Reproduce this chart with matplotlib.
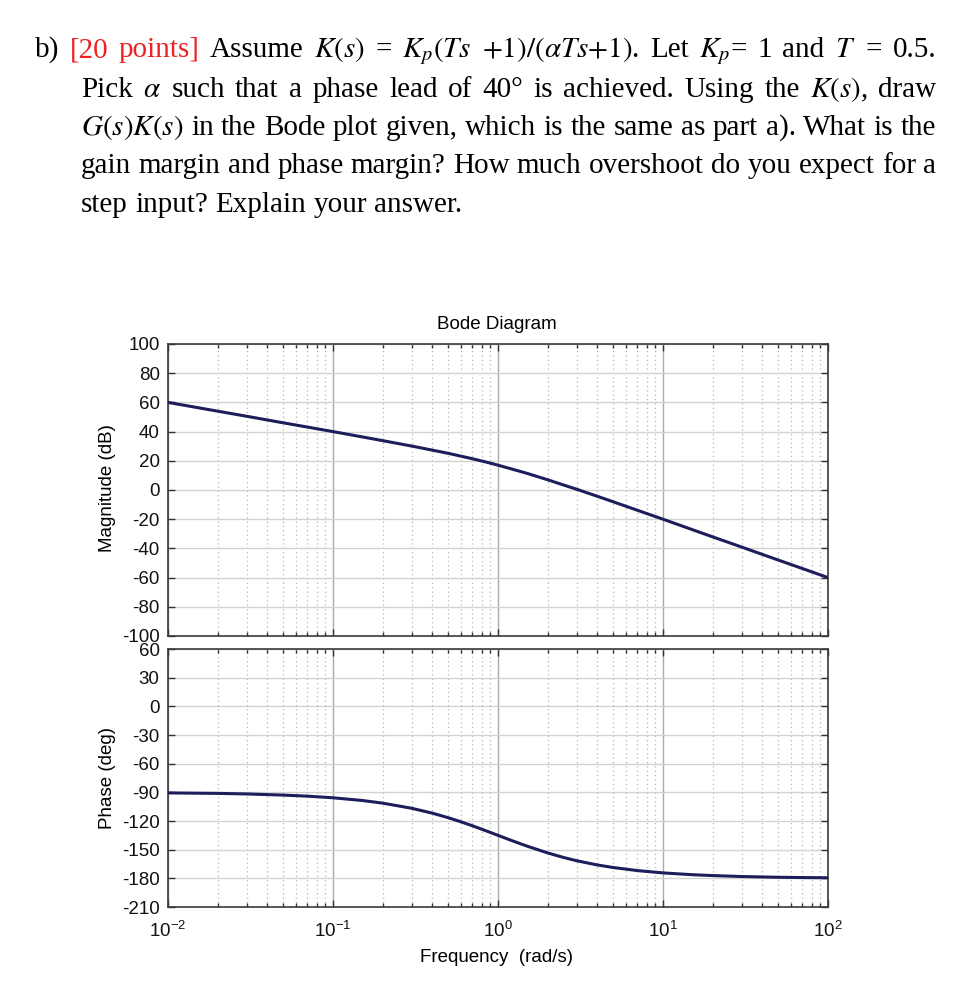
import numpy as np
import matplotlib
matplotlib.use("Agg")
import matplotlib.pyplot as plt
from matplotlib.ticker import LogLocator, FixedLocator

plt.rcParams.update({"font.family": "Liberation Sans", "axes.unicode_minus": False})

# values
freq = [0.01, 0.02, 0.03, 0.05, 0.07, 0.1, 0.15, 0.2, 0.3, 0.4,
        0.5, 0.6, 0.7, 0.85, 1.0, 1.2, 1.5, 2, 2.5, 3,
        4, 5, 7, 10, 15, 20, 30, 50, 70, 100]
mag_db = [60.0, 54.0, 50.5, 46.0, 43.1, 40.0, 36.4, 33.8, 30.1, 27.3,
          25.1, 23.1, 21.4, 19.1, 17.0, 14.5, 11.4, 7.0, 3.4, 0.5,
          -4.3, -8.1, -13.9, -20.0, -27.1, -32.1, -39.1, -48.0, -53.8, -60.0]
phase_deg = [-90.6, -91.1, -91.7, -92.9, -94.0, -95.7, -98.5, -101.3, -106.7, -111.8,
             -116.6, -121.0, -125.0, -130.4, -135.0, -140.2, -146.3, -153.4, -158.2, -161.6,
             -166.0, -168.7, -171.9, -174.3, -176.2, -177.1, -178.1, -178.9, -179.2, -179.4]
mag_ticks = list(range(-100, 101, 20))
phase_ticks = list(range(-210, 61, 30))

# question text, one list of words per line
line1 = ["b)", "[20", "points]", "Assume", "$K(s)$", "=", "$K_p(Ts$",
         r"$+1)/(\alpha Ts{+}1)$.", "Let", "$K_p$=", "1", "and", "$T$", "=", "0.5."]
line2 = ["Pick", r"$\alpha$", "such", "that", "a", "phase", "lead", "of", "40°", "is",
         "achieved.", "Using", "the", "$K(s)$,", "draw"]
line3 = ["$G(s)K(s)$", "in", "the", "Bode", "plot", "given,", "which", "is", "the",
         "same", "as", "part", "a).", "What", "is", "the"]
line4 = "gain margin and phase margin? How much overshoot do you expect for a".split()
line5 = "step input? Explain your answer.".split()

W, H = 976, 996
FS = 21
RED = "#ee2222"
NAVY = "#1d1d5c"

fig = plt.figure(figsize=(W / 100, H / 100), dpi=100)
renderer = fig.canvas.get_renderer()


def put_line(words, y, x0, x1=None, red=()):
    texts = [fig.text(0, 1 - y / H, w, fontsize=FS, family="Liberation Serif",
                      math_fontfamily="stix", va="baseline",
                      color=RED if i in red else "black")
             for i, w in enumerate(words)]
    widths = [t.get_window_extent(renderer).width for t in texts]
    if x1 is None:
        gap = FS * 0.25 * 100 / 72
    else:
        gap = (x1 - x0 - sum(widths)) / (len(words) - 1)
    x = x0
    for t, w in zip(texts, widths):
        t.set_x(x / W)
        x += w + gap


put_line(line1, 57, 35, 936, red=(1, 2))
put_line(line2, 97, 81, 936)
put_line(line3, 135, 81, 936)
put_line(line4, 173, 81, 936)
put_line(line5, 212, 81)

# the two bode axes
ax_m = fig.add_axes([168 / W, 1 - 636 / H, 660 / W, 292 / H])
ax_p = fig.add_axes([168 / W, 1 - 907 / H, 660 / W, 258 / H], sharex=ax_m)

ax_m.semilogx(freq, mag_db, color=NAVY, lw=2.2, zorder=3)
ax_p.semilogx(freq, phase_deg, color=NAVY, lw=2.2, zorder=3)

ax_m.set_ylim(-100, 100)
ax_m.yaxis.set_major_locator(FixedLocator(mag_ticks))
ax_p.set_ylim(-210, 60)
ax_p.yaxis.set_major_locator(FixedLocator(phase_ticks))

for ax in (ax_m, ax_p):
    ax.set_xlim(0.01, 100)
    ax.xaxis.set_major_locator(LogLocator(base=10, numticks=10))
    ax.xaxis.set_minor_locator(LogLocator(base=10, subs=np.arange(2, 10), numticks=10))
    ax.tick_params(which="both", direction="in", top=True, right=True,
                   labelsize=13.5, color="#333333", labelcolor="#111111")
    ax.tick_params(which="major", length=5, width=1)
    ax.tick_params(which="minor", length=3, width=1)
    ax.tick_params(axis="y", pad=6)
    ax.tick_params(axis="x", pad=10)
    ax.grid(True, which="major", axis="y", color="#d2d2d2", lw=1, ls="-")
    ax.grid(True, which="major", axis="x", color="#aaaaaa", lw=1, ls="-")
    ax.grid(True, which="minor", axis="x", color="#b4b4b4", lw=0.9, ls=(0, (1, 2.5)))
    ax.set_axisbelow(True)
    for sp in ax.spines.values():
        sp.set_color("#3a3a3a")
        sp.set_linewidth(1.2)

ax_m.tick_params(labelbottom=False)

fig.text(497 / W, 1 - 329 / H, "Bode Diagram", ha="center", va="baseline", fontsize=13.5)
fig.text(108 / W, 1 - 488 / H, "Magnitude (dB)", rotation=90, ha="center", va="center", fontsize=13.5)
fig.text(108 / W, 1 - 778 / H, "Phase (deg)", rotation=90, ha="center", va="center", fontsize=13.5)
fig.text(497 / W, 1 - 957 / H, "Frequency  (rad/s)", ha="center", va="center", fontsize=13.5)

fig.savefig("out.png", dpi=100)
